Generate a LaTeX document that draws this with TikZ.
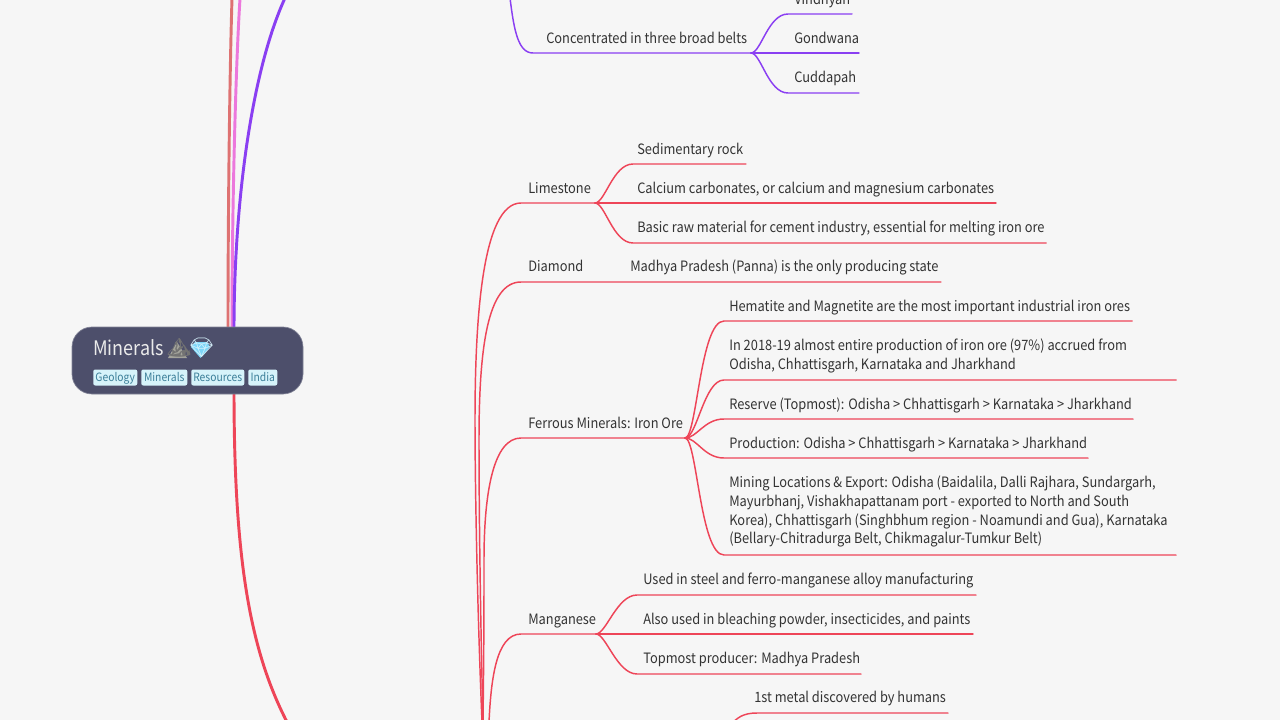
\documentclass[tikz,border=0pt]{standalone}
\usepackage{fontspec}
\setmainfont[FakeStretch=0.9]{Noto Sans CJK SC}
\newfontfamily\emo{Noto Emoji}
\definecolor{bgc}{HTML}{F6F6F6}
\definecolor{redl}{HTML}{EE4558}
\definecolor{purl}{HTML}{8A3FF2}
\definecolor{salm}{HTML}{DE7272}
\definecolor{pinkl}{HTML}{EC78DC}
\definecolor{rootc}{HTML}{4D4F6B}
\definecolor{chipc}{HTML}{D6F3FA}
\definecolor{chipt}{HTML}{3C7F99}
\definecolor{txt}{HTML}{333333}
\definecolor{mtn}{HTML}{A3A39B}
\definecolor{gem}{HTML}{7FD6F8}
\tikzset{
  lbl/.style={anchor=base west,inner sep=0pt,text=txt,font=\fontsize{10.7}{14}\selectfont,align=left},
  chip/.style={anchor=west,fill=chipc,rounded corners=1.5pt,inner xsep=0pt,inner ysep=0pt,minimum height=12pt,text height=7pt,text depth=1pt,text=chipt,font=\fontsize{8.6}{10}\selectfont},
  rootbox/.style={draw=rootc!70!white,line width=.5pt,fill=rootc,rounded corners=15pt,minimum width=173.25pt,minimum height=50.25pt,inner sep=0pt},
  rl/.style={draw=redl,line width=1.1pt,line cap=round},
  pl/.style={draw=purl,line width=1.1pt,line cap=round},
  main/.style={line width=2.2pt},
}
\begin{document}
\begin{tikzpicture}[x=0.75pt,y=-0.75pt]
\useasboundingbox (0,0) rectangle (1280,720);
\clip (0,0) rectangle (1280,720);
\fill[bgc] (0,0) rectangle (1280,720);

% free ends
\coordinate (topS) at (232,-1);
\coordinate (topP) at (240,-1);
\coordinate (topV) at (285,-2);
\coordinate (botR) at (287,722);
\coordinate (rS) at (228,330);
\coordinate (rP) at (232,330);
\coordinate (rV) at (234,330);
\coordinate (rR) at (234,390);

% main branches
\draw[salm,main] (rS) .. controls (228,200) and (230,60) .. (topS);
\draw[pinkl,main] (rP) .. controls (232,200) and (236,60) .. (topP);
\draw[purl,main] (rV) .. controls (234,200) and (252,70) .. (topV);
\draw[redl,main] (rR) .. controls (234,560) and (250,650) .. (botR);

% root
\node[rootbox] (root) at (187.5,360.5) {};
\node[anchor=base west,inner sep=0pt,text=white!92!black,font=\fontsize{15}{18}\selectfont] (title) at (93,355) {Minerals};
\fill[mtn] (168,358) -- (177,342) -- (187,358) -- cycle;
\fill[gem] (191,347) -- (195,342) -- (207,342) -- (210,347) -- (200.5,358) -- cycle;
\node[anchor=base west,inner sep=0pt,text=black!55,font=\emo\fontsize{14.5}{18}\selectfont] (emoA) at (166.5,354) {⛰};
\node[anchor=base west,inner sep=0pt,text=white!70!gem,font=\emo\fontsize{14.5}{18}\selectfont] (emoB) at (189,354) {💎};
\node[chip,minimum width=33pt] (c1) at (93,377.5) {Geology};
\node[chip,minimum width=34.5pt] (c2) at (141,377.5) {Minerals};
\node[chip,minimum width=39.75pt] (c3) at (191,377.5) {Resources};
\node[chip,minimum width=21.75pt] (c4) at (248,377.5) {India};

% purple group
\node[lbl] (belts) at (546,44) {Concentrated in three broad belts};
\node[lbl] (vin) at (794,5) {Vindhyan};
\node[lbl] (gon) at (794,44) {Gondwana};
\node[lbl] (cud) at (794,83) {Cuddapah};
\coordinate (pTop) at (510,-2);
\coordinate (hBelts) at (751,53);
\coordinate (beltsA) at (533,53);
\coordinate (vinA) at (788,14);
\coordinate (vinB) at (852,14);
\coordinate (gonB) at (859,53);
\coordinate (cudA) at (788,93);
\coordinate (cudB) at (859,93);
\draw[pl] (pTop) .. controls (514,30) and (518,53) .. (beltsA) -- (hBelts);
\draw[pl] (hBelts) .. controls +(10,0) and +(-20,0) .. (vinA) -- (vinB);
\draw[pl] (hBelts) -- (gonB);
\draw[pl] (hBelts) .. controls +(10,0) and +(-20,0) .. (cudA) -- (cudB);

% limestone
\node[lbl] (lime) at (528,194) {Limestone};
\node[lbl] (l1) at (637,155) {Sedimentary rock};
\node[lbl] (l2) at (637,194) {Calcium carbonates, or calcium and magnesium carbonates};
\node[lbl] (l3) at (637,233) {Basic raw material for cement industry, essential for melting iron ore};
\coordinate (bLime) at (482,722);
\coordinate (midLime) at (475,420);
\coordinate (limeA) at (521,203);
\coordinate (hLime) at (595,203);
\coordinate (l1A) at (633,164);
\coordinate (l1B) at (746,164);
\coordinate (l2B) at (996,203);
\coordinate (l3A) at (633,243);
\coordinate (l3B) at (1046,243);
\draw[rl] (bLime) .. controls (477,600) and (475,480) .. (midLime) .. controls (475,320) and (482,203) .. (limeA) -- (hLime);
\draw[rl] (hLime) .. controls +(10,0) and +(-20,0) .. (l1A) -- (l1B);
\draw[rl] (hLime) -- (l2B);
\draw[rl] (hLime) .. controls +(10,0) and +(-20,0) .. (l3A) -- (l3B);

% diamond
\node[lbl] (dia) at (528,272) {Diamond};
\node[lbl] (d1) at (630,272) {Madhya Pradesh (Panna) is the only producing state};
\coordinate (bDia) at (483,722);
\coordinate (midDia) at (479,440);
\coordinate (diaA) at (521,282);
\coordinate (d1B) at (941,282);
\draw[rl] (bDia) .. controls (480,600) and (479,500) .. (midDia) .. controls (479,350) and (487,282) .. (diaA) -- (d1B);

% ferrous
\node[lbl] (fer) at (528,428) {Ferrous Minerals: Iron Ore};
\node[lbl] (f1) at (729,311) {Hematite and Magnetite are the most important industrial iron ores};
\node[lbl,anchor=north west] (f2) at (729,339) {In 2018-19 almost entire production of iron ore (97\%) accrued from\\Odisha, Chhattisgarh, Karnataka and Jharkhand};
\node[lbl] (f3) at (729,409) {Reserve (Topmost): Odisha > Chhattisgarh > Karnataka > Jharkhand};
\node[lbl] (f4) at (729,448) {Production: Odisha > Chhattisgarh > Karnataka > Jharkhand};
\node[lbl,anchor=north west] (f5) at (729,476) {Mining Locations \& Export: Odisha (Baidalila, Dalli Rajhara, Sundargarh,\\Mayurbhanj, Vishakhapattanam port - exported to North and South\\Korea), Chhattisgarh (Singhbhum region - Noamundi and Gua), Karnataka\\(Bellary-Chitradurga Belt, Chikmagalur-Tumkur Belt)};
\coordinate (bFer) at (483,722);
\coordinate (midFer) at (484,560);
\coordinate (ferA) at (521,438);
\coordinate (hFer) at (685,438);
\coordinate (f1A) at (724,321);
\coordinate (f1B) at (1132,321);
\coordinate (f2A) at (724,380);
\coordinate (f2B) at (1176,380);
\coordinate (f3A) at (724,419);
\coordinate (f3B) at (1133,419);
\coordinate (f4A) at (724,458);
\coordinate (f4B) at (1088,458);
\coordinate (f5A) at (724,555);
\coordinate (f5B) at (1176,555);
\draw[rl] (bFer) .. controls (484,640) and (484,600) .. (midFer) .. controls (484,490) and (494,438) .. (ferA) -- (hFer);
\draw[rl] (hFer) .. controls +(12,0) and +(-24,0) .. (f1A) -- (f1B);
\draw[rl] (hFer) .. controls +(12,0) and +(-20,0) .. (f2A) -- (f2B);
\draw[rl] (hFer) .. controls +(12,0) and +(-20,0) .. (f3A) -- (f3B);
\draw[rl] (hFer) .. controls +(12,0) and +(-20,0) .. (f4A) -- (f4B);
\draw[rl] (hFer) .. controls +(12,0) and +(-24,0) .. (f5A) -- (f5B);

% manganese
\node[lbl] (man) at (528,624) {Manganese};
\node[lbl] (m1) at (643,584) {Used in steel and ferro-manganese alloy manufacturing};
\node[lbl] (m2) at (643,624) {Also used in bleaching powder, insecticides, and paints};
\node[lbl] (m3) at (643,663) {Topmost producer: Madhya Pradesh};
\coordinate (bMan) at (489,722);
\coordinate (manA) at (521,634);
\coordinate (hMan) at (596,634);
\coordinate (m1A) at (637,595);
\coordinate (m1B) at (976,595);
\coordinate (m2B) at (973,634);
\coordinate (m3A) at (637,674);
\coordinate (m3B) at (861,674);
\draw[rl] (bMan) .. controls (491,680) and (496,634) .. (manA) -- (hMan);
\draw[rl] (hMan) .. controls +(10,0) and +(-20,0) .. (m1A) -- (m1B);
\draw[rl] (hMan) -- (m2B);
\draw[rl] (hMan) .. controls +(10,0) and +(-20,0) .. (m3A) -- (m3B);

% copper branch
\node[lbl] (c1st) at (754,702) {1st metal discovered by humans};
\coordinate (cuFree) at (730,726);
\coordinate (cuA) at (757,713);
\coordinate (cuB) at (948,713);
\draw[rl] (cuFree) .. controls (737,717) and (744,713) .. (cuA) -- (cuB);
\end{tikzpicture}
\end{document}
